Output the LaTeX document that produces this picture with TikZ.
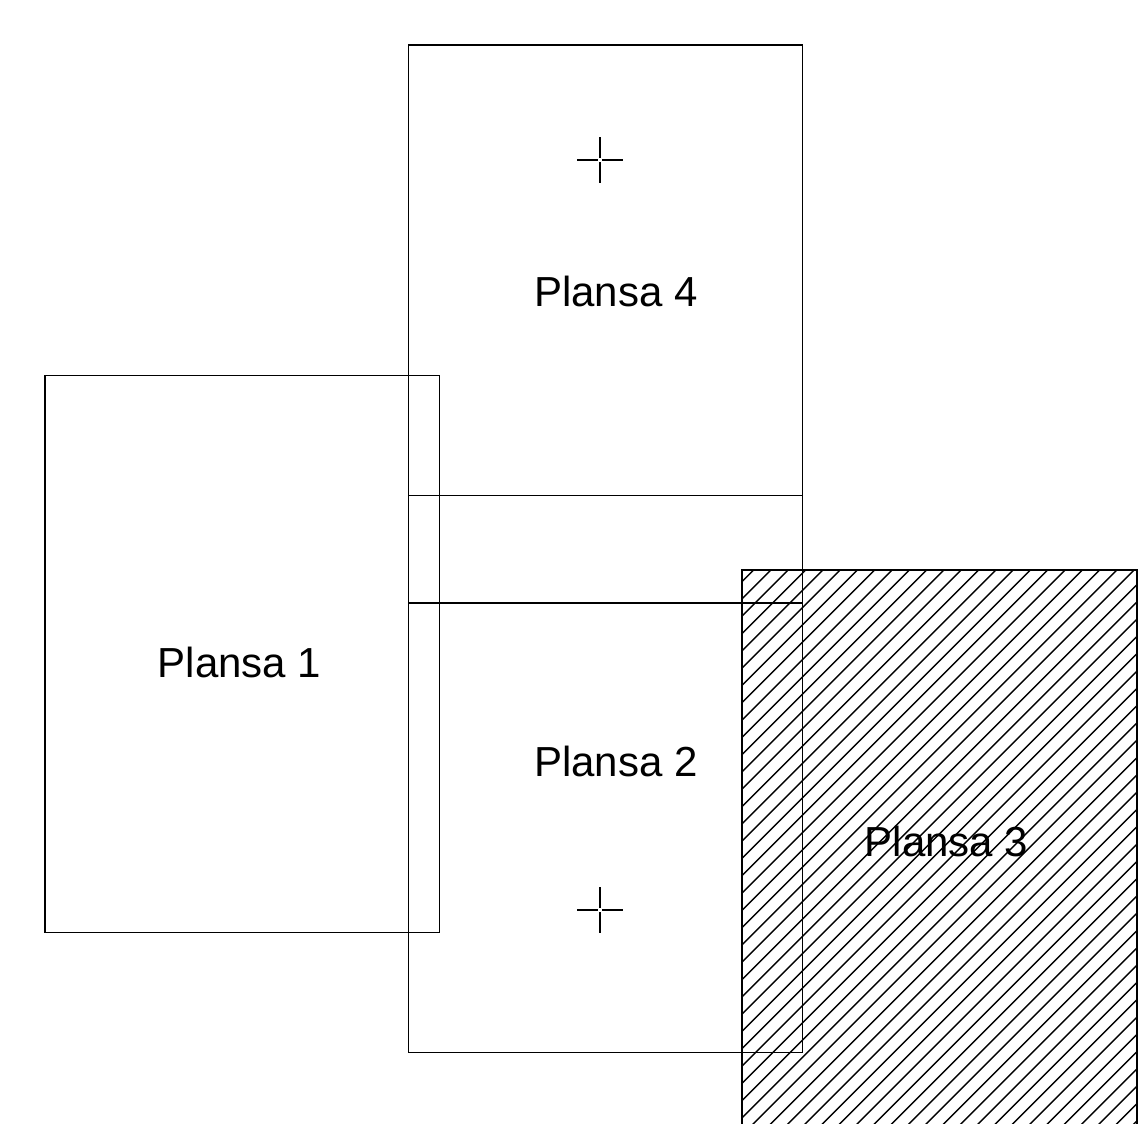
\documentclass[tikz,border=0pt]{standalone}
\usepackage{fontspec}
\setmainfont{Liberation Sans}
\begin{document}
\begin{tikzpicture}[x=1pt,y=-1pt,
  sheet/.style={draw=black,line width=1.6pt},
  hatchline/.style={draw=black,line width=1.4pt},
  crossline/.style={draw=black,line width=1.6pt},
  lbl/.style={anchor=base,inner sep=0pt,font=\fontsize{42}{50}\selectfont}]
\useasboundingbox (0,0) rectangle (1146,1124);
\clip (0,0) rectangle (1146,1124);
% hatching of Plansa 3
\begin{scope}
  \clip (742,570) rectangle (1137,1140);
  \foreach \k in {-20,...,38}{
    \pgfmathsetmacro{\c}{1635+17.3*\k}
    \draw[hatchline] (\c-1140,1140) -- (\c-560,560);
  }
\end{scope}
% sheets
\draw[sheet] (408.5,45) rectangle (802.5,603);
\draw[sheet] (408.5,495.5) rectangle (802.5,1052.5);
\draw[sheet] (45,375.5) rectangle (439.5,932.5);
\draw[sheet] (742,570) rectangle (1137,1140);
% crosses
\foreach \cy in {160,910}{
  \draw[crossline] (577,\cy) -- (598,\cy) (602,\cy) -- (623,\cy)
                   (600,\cy-23) -- (600,\cy-2) (600,\cy+2) -- (600,\cy+23);
}
% labels
\node[lbl] (p4) at (616,306.5) {Plansa 4};
\node[lbl] (p1) at (239.5,677.5) {Plansa 1};
\node[lbl] (p2) at (616,776) {Plansa 2};
\node[lbl] (p3) at (946.5,856) {Plansa 3};
\end{tikzpicture}
\end{document}
